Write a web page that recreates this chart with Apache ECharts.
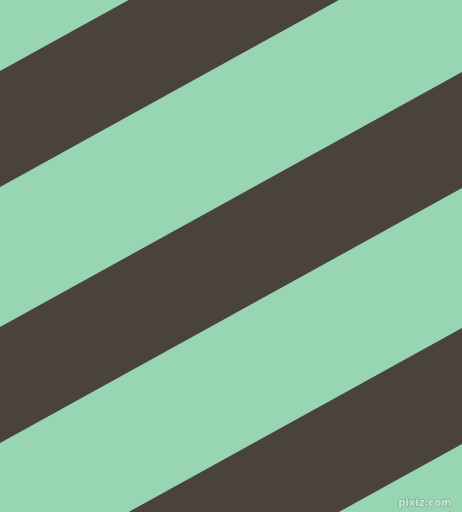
<!DOCTYPE html>
<html>
<head>
<meta charset="utf-8">
<script src="https://cdn.jsdelivr.net/npm/echarts@6/dist/echarts.min.js"></script>
<style>
  html, body { margin: 0; padding: 0; background: #97d5b3; }
  #chart { width: 462px; height: 512px; }
</style>
</head>
<body>
<div id="chart"></div>
<script>
// stripe edges, y value where each edge meets the left (x=0) and right (x=462) side
var stripeTopLeft = [71, 327, 583];
var stripeTopRight = [-184, 72, 328];
var stripeBottomLeft = [187, 443, 699];
var stripeBottomRight = [-68, 188, 444];

var stripes = stripeTopLeft.map(function (v, i) {
  return [v, stripeTopRight[i], stripeBottomLeft[i], stripeBottomRight[i]];
});

var chart = echarts.init(document.getElementById('chart'));

var option = {
  backgroundColor: '#97d5b3',
  animation: false,
  grid: { left: 0, right: 0, top: 0, bottom: 0 },
  xAxis: { type: 'value', min: 0, max: 462, show: false },
  yAxis: { type: 'value', min: 0, max: 512, inverse: true, show: false },
  series: [{
    type: 'custom',
    clip: true,
    data: stripes,
    renderItem: function (params, api) {
      var pts = [
        api.coord([0, api.value(0)]),
        api.coord([462, api.value(1)]),
        api.coord([462, api.value(3)]),
        api.coord([0, api.value(2)])
      ];
      return {
        type: 'polygon',
        shape: { points: pts },
        style: { fill: '#4a423c' }
      };
    }
  }],
  graphic: [{
    type: 'text',
    right: 10,
    bottom: 3,
    style: {
      text: 'pixiz.com',
      fontFamily: 'DejaVu Sans',
      fontSize: 10,
      fontWeight: 'bold',
      fill: '#c9e6d5',
      stroke: '#7f9f8c',
      lineWidth: 1
    }
  }]
};

chart.setOption(option);
</script>
</body>
</html>
